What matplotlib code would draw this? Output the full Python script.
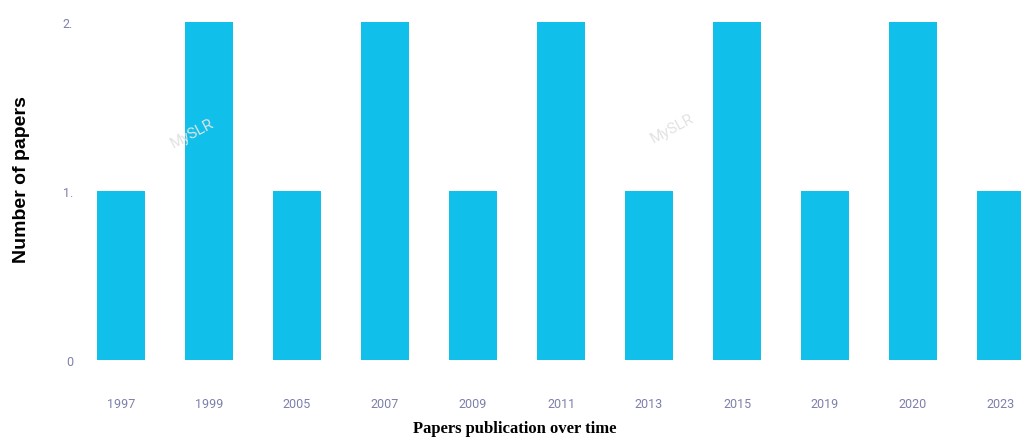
import matplotlib
matplotlib.use('Agg')
import matplotlib.pyplot as plt

# Papers per publication year
years = ['1997', '1999', '2005', '2007', '2009', '2011', '2013', '2015', '2019', '2020', '2023']
papers = [1, 2, 1, 2, 1, 2, 1, 2, 1, 2, 1]
ytick_vals = [0, 1, 2]
ytick_labels = ['0', '1.', '2.']

bar_color = '#10c0ea'
tick_color = '#7c80ab'

fig = plt.figure(figsize=(10.21, 4.39), dpi=100)
ax = fig.add_axes([80 / 1021, 78 / 439, 941 / 1021, 341 / 439])

x = list(range(len(years)))
ax.bar(x, papers, width=0.545, color=bar_color, edgecolor='none')

ax.set_xlim(-0.466, 10.227)
ax.set_ylim(0, 2.018)

ax.set_xticks(x)
ax.set_xticklabels(years, fontsize=9, color=tick_color, family='Roboto', va='center')
ax.set_yticks(ytick_vals)
ax.set_yticklabels(ytick_labels, fontsize=9, color=tick_color, family='Roboto')
# pad is in points (1 pt = 1.39 px here)
ax.tick_params(axis='x', length=0, pad=31)
ax.tick_params(axis='y', length=0, pad=5)

for side in ['top', 'right', 'left', 'bottom']:
    ax.spines[side].set_visible(False)

# faint watermarks
for wx, wy in [(192 / 1021, 305 / 439), (672 / 1021, 310 / 439)]:
    fig.text(wx, wy, 'MySLR', rotation=28, fontsize=11, color='#e2e2e2',
             ha='center', va='center', family='Roboto', zorder=0)

fig.text(22 / 1021, 259 / 439, 'Number of papers', rotation=90, fontsize=14,
         fontweight='bold', ha='center', va='center', family='Liberation Sans')
fig.text(515 / 1021, 10 / 439, 'Papers publication over time', fontsize=12,
         fontweight='bold', ha='center', va='center', family='Liberation Serif')

fig.savefig('out.png', dpi=100)
